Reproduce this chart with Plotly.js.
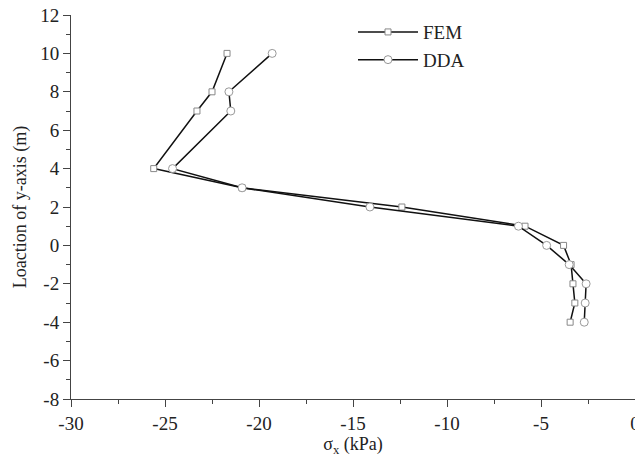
<!DOCTYPE html>
<html>
<head>
<meta charset="utf-8">
<script src="https://cdn.plot.ly/plotly-3.0.1.min.js"></script>
<style>html,body{margin:0;padding:0;background:#fff;}#chart{width:635px;height:464px;}</style>
</head>
<body>
<div id="chart"></div>
<script>
const depthY = [10, 8, 7, 4, 3, 2, 1, 0, -1, -2, -3, -4];
const femX = [-21.7, -22.5, -23.3, -25.6, -20.9, -12.4, -5.85, -3.8, -3.4, -3.3, -3.2, -3.45];
const ddaX = [-19.3, -21.6, -21.5, -24.6, -20.9, -14.1, -6.2, -4.7, -3.5, -2.6, -2.65, -2.7];
const xTicks = [-30, -25, -20, -15, -10, -5, 0];
const yTicks = [-8, -6, -4, -2, 0, 2, 4, 6, 8, 10, 12];

const fam = '"Liberation Serif", "Times New Roman", serif';
const tickFont = {family: fam, size: 19, color: '#222'};
const titleFont = {family: fam, size: 18, color: '#222'};
const legendFont = {family: fam, size: 19, color: '#222'};

const traces = [
  {
    x: femX, y: depthY, name: 'FEM', type: 'scatter', mode: 'lines+markers',
    line: {color: '#111', width: 1.5},
    marker: {symbol: 'square', size: 6, color: '#fff', line: {color: '#888', width: 1}}
  },
  {
    x: ddaX, y: depthY, name: 'DDA', type: 'scatter', mode: 'lines+markers',
    line: {color: '#111', width: 1.5},
    marker: {symbol: 'circle', size: 8, color: '#fff', line: {color: '#999', width: 1}}
  }
];

const axisCommon = {
  showgrid: false, zeroline: false, showline: true, linecolor: '#444', linewidth: 1,
  ticks: 'outside', ticklen: 7, tickwidth: 1, tickcolor: '#444',
  tickfont: tickFont, mirror: false, ticklabeloverflow: 'allow'
};

const layout = {
  width: 635, height: 464,
  margin: {l: 71, r: 0, t: 15, b: 65},
  paper_bgcolor: '#fff', plot_bgcolor: '#fff',
  font: tickFont,
  showlegend: true,
  legend: {x: 0.50, y: 1.005, xanchor: 'left', yanchor: 'top', bgcolor: 'rgba(0,0,0,0)',
           font: legendFont, itemwidth: 60, tracegroupgap: 4},
  xaxis: Object.assign({}, axisCommon, {
    range: [-30, 0], tickvals: xTicks, ticktext: xTicks.map(String),
    minor: {dtick: 2.5, ticks: 'outside', ticklen: 4, tickcolor: '#444', showgrid: false},
    title: {text: 'σ<sub>x</sub> (kPa)', font: titleFont, standoff: 2}
  }),
  yaxis: Object.assign({}, axisCommon, {
    range: [-8, 12], tickvals: yTicks, ticktext: yTicks.map(String),
    minor: {dtick: 1, ticks: 'outside', ticklen: 4, tickcolor: '#444', showgrid: false},
    title: {text: 'Loaction of y-axis (m)', font: titleFont, standoff: 8}
  })
};

Plotly.newPlot('chart', traces, layout, {displayModeBar: false, staticPlot: true});
</script>
</body>
</html>
